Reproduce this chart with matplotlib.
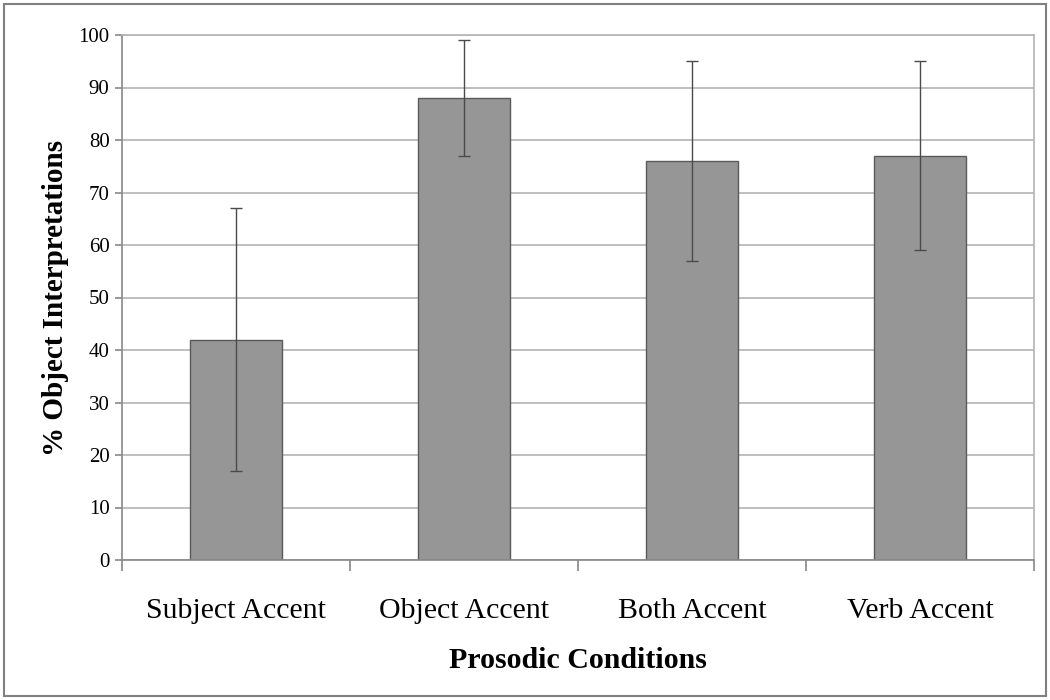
import matplotlib
matplotlib.use('Agg')
from matplotlib import pyplot as plt
from matplotlib.patches import Rectangle

conditions = ['Subject Accent', 'Object Accent', 'Both Accent', 'Verb Accent']
percent_object = [42, 88, 76, 77]
error = [25, 11, 19, 18]
y_ticks = list(range(0, 101, 10))


def main():
    plt.rcParams['font.family'] = ['Liberation Serif', 'DejaVu Serif']
    fig = plt.figure(figsize=(10.5, 7), dpi=100)
    ax = fig.add_axes([0.1162, 0.2, 0.8686, 0.75])

    pos = [i + 0.5 for i in range(len(conditions))]
    ax.bar(pos, percent_object, width=0.4, color='#969696',
           edgecolor='#5a5a5a', linewidth=1, zorder=2)
    ax.errorbar(pos, percent_object, yerr=error, fmt='none',
                ecolor='#4a4a4a', elinewidth=1, capsize=4.5, capthick=1,
                zorder=3)

    ax.set_xlim(0, len(conditions))
    ax.set_ylim(0, 100)
    ax.set_yticks(y_ticks)
    ax.yaxis.grid(True, color='#b4b4b4', linewidth=1.2, zorder=0)
    ax.set_axisbelow(True)

    ax.set_xticks(range(len(conditions) + 1))
    ax.set_xticklabels([])
    ax.set_xticks(pos, minor=True)
    ax.set_xticklabels(conditions, minor=True, fontsize=21.5)
    ax.tick_params(axis='x', which='major', length=8, color='#888888', width=1.2)
    ax.tick_params(axis='x', which='minor', length=0, pad=27)
    ax.tick_params(axis='y', length=5, color='#888888', width=1.2,
                   labelsize=15, pad=4)

    for side in ['top', 'right']:
        ax.spines[side].set_color('#b4b4b4')
        ax.spines[side].set_linewidth(1.2)
    for side in ['left', 'bottom']:
        ax.spines[side].set_color('#888888')
        ax.spines[side].set_linewidth(1.2)

    ax.set_xlabel('Prosodic Conditions', fontsize=21.5, fontweight='bold',
                  labelpad=17)
    ax.set_ylabel('% Object Interpretations', fontsize=21, fontweight='bold',
                  labelpad=7)

    fig.patches.append(Rectangle((0.004, 0.006), 0.992, 0.988,
                                 transform=fig.transFigure, fill=False,
                                 edgecolor='#808080', linewidth=1.5))

    fig.savefig('out.png', dpi=100)


if __name__ == '__main__':
    main()
